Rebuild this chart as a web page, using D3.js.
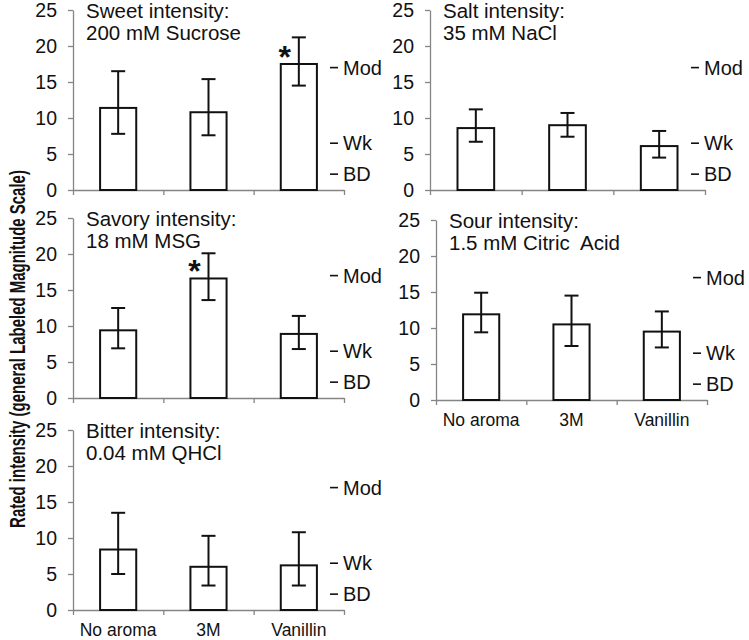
<!DOCTYPE html>
<html>
<head>
<meta charset="utf-8">
<script src="https://cdn.jsdelivr.net/npm/d3@7"></script>
<style>
  html, body { margin: 0; padding: 0; background: #fff; }
  svg { display: block; }
  text { font-family: "Liberation Sans", Arial, sans-serif; fill: #111; }
</style>
</head>
<body>
<svg id="chart" width="749" height="640"></svg>
<script>
// ---------------- data ----------------
const categories = ["No aroma", "3M", "Vanillin"];
const yTicks = [0, 5, 10, 15, 20, 25];

const titleLine1 = ["Sweet intensity:", "Salt intensity:", "Savory intensity:", "Sour intensity:", "Bitter intensity:"];
const titleLine2 = ["200 mM Sucrose", "35 mM NaCl", "18 mM MSG", "1.5 mM Citric  Acid", "0.04 mM QHCl"];

const sweetMean = [11.4, 10.8, 17.5];
const sweetLow  = [7.8, 7.6, 14.5];
const sweetHigh = [16.5, 15.4, 21.2];

const saltMean = [8.6, 9.0, 6.1];
const saltLow  = [6.7, 7.4, 4.5];
const saltHigh = [11.2, 10.7, 8.2];

const savoryMean = [9.4, 16.6, 8.9];
const savoryLow  = [6.9, 13.6, 6.8];
const savoryHigh = [12.5, 20.1, 11.4];

const sourMean = [11.9, 10.5, 9.5];
const sourLow  = [9.4, 7.5, 7.3];
const sourHigh = [14.9, 14.5, 12.3];

const bitterMean = [8.4, 6.0, 6.2];
const bitterLow  = [5.0, 3.4, 3.4];
const bitterHigh = [13.5, 10.3, 10.8];

// significance markers: panel index -> bar index
const sigPanel = [0, 2];
const sigBar   = [2, 1];

// gLMS reference labels
const refLabels = ["Mod", "Wk", "BD"];
const refValues = [17, 6.5, 2.2];

const yLabel = "Rated intensity (general Labeled Magnitude Scale)";

// ---------------- layout ----------------
const means = [sweetMean, saltMean, savoryMean, sourMean, bitterMean];
const lows  = [sweetLow, saltLow, savoryLow, sourLow, bitterLow];
const highs = [sweetHigh, saltHigh, savoryHigh, sourHigh, bitterHigh];

const layout = [
  {x0: 73,  x1: 344, top: 10,  bottom: 190, xlabels: false},
  {x0: 430, x1: 705, top: 10,  bottom: 190, xlabels: false},
  {x0: 73,  x1: 344, top: 218, bottom: 398, xlabels: false},
  {x0: 436, x1: 707, top: 220, bottom: 400, xlabels: true},
  {x0: 73,  x1: 344, top: 430, bottom: 610, xlabels: true}
];

const svg = d3.select("#chart");
const axisColor = "#858585";

layout.forEach((L, pi) => {
  const g = svg.append("g");
  const y = d3.scaleLinear().domain([0, 25]).range([L.bottom, L.top]);
  const xb = d3.scaleBand().domain(categories).range([L.x0, L.x1])
      .paddingInner(0.6).paddingOuter(0.3);
  const xt = d3.scaleLinear().domain([0, categories.length]).range([L.x0, L.x1]);

  // y axis
  const ya = g.append("g").attr("transform", `translate(${L.x0},0)`)
    .call(d3.axisLeft(y).tickValues(yTicks).tickSize(5).tickSizeOuter(0).tickPadding(11));
  ya.selectAll("path, line").attr("stroke", axisColor).attr("stroke-width", 1.3);
  ya.selectAll("text").attr("font-size", 19.5).attr("fill", "#111")
    .attr("font-family", "Liberation Sans, Arial, sans-serif");

  // x axis (ticks at band boundaries)
  const xa = g.append("g").attr("transform", `translate(0,${L.bottom})`)
    .call(d3.axisBottom(xt).tickValues(d3.range(categories.length + 1)).tickSize(5).tickSizeOuter(0).tickFormat(""));
  xa.selectAll("path, line").attr("stroke", axisColor).attr("stroke-width", 1.3);

  if (L.xlabels) {
    g.selectAll(".xl").data(categories).enter().append("text")
      .attr("x", d => xb(d) + xb.bandwidth() / 2)
      .attr("y", L.bottom + 26)
      .attr("text-anchor", "middle")
      .attr("font-size", 17.5)
      .text(d => d);
  }

  // bars
  const m = means[pi], lo = lows[pi], hi = highs[pi];
  g.selectAll(".bar").data(categories).enter().append("rect")
    .attr("x", d => xb(d))
    .attr("width", xb.bandwidth())
    .attr("y", (d, i) => y(m[i]))
    .attr("height", (d, i) => y(0) - y(m[i]))
    .attr("fill", "#fff").attr("stroke", "#111").attr("stroke-width", 2);

  // error bars
  const cap = 7;
  categories.forEach((c, i) => {
    const cx = xb(c) + xb.bandwidth() / 2;
    g.append("line").attr("x1", cx).attr("x2", cx).attr("y1", y(lo[i])).attr("y2", y(hi[i]))
      .attr("stroke", "#111").attr("stroke-width", 2);
    [lo[i], hi[i]].forEach(v => {
      g.append("line").attr("x1", cx - cap).attr("x2", cx + cap).attr("y1", y(v)).attr("y2", y(v))
        .attr("stroke", "#111").attr("stroke-width", 2);
    });
  });

  // significance asterisk
  sigPanel.forEach((p, k) => {
    if (p !== pi) return;
    const c = categories[sigBar[k]];
    const cx = xb(c) + xb.bandwidth() / 2 - 14;
    g.append("text").attr("x", cx).attr("y", y(m[sigBar[k]]) + 4)
      .attr("text-anchor", "middle").attr("font-size", 32).attr("font-weight", "bold")
      .text("*");
  });

  // reference labels
  refLabels.forEach((lab, i) => {
    const yy = y(refValues[i]);
    g.append("line").attr("x1", L.x1 - 14).attr("x2", L.x1 - 6).attr("y1", yy).attr("y2", yy)
      .attr("stroke", "#111").attr("stroke-width", 1.6);
    g.append("text").attr("x", L.x1 - 1).attr("y", yy).attr("dy", "0.36em")
      .attr("font-size", 20).text(lab);
  });

  // titles
  g.append("text").attr("x", L.x0 + 13).attr("y", L.top + 8).attr("font-size", 20.5).text(titleLine1[pi]);
  g.append("text").attr("x", L.x0 + 13).attr("y", L.top + 30).attr("font-size", 20.5)
    .attr("xml:space", "preserve").style("white-space", "pre").text(titleLine2[pi]);
});

// y-axis label (condensed bold, scaled to the reference length)
const yl = svg.append("text")
  .attr("text-anchor", "middle")
  .attr("font-size", 22).attr("font-weight", "bold")
  .text(yLabel);
const natural = yl.node().getComputedTextLength();
const sx = 358 / natural;
yl.attr("transform", `translate(25,349) rotate(-90) scale(${sx},1)`);
</script>
</body>
</html>
